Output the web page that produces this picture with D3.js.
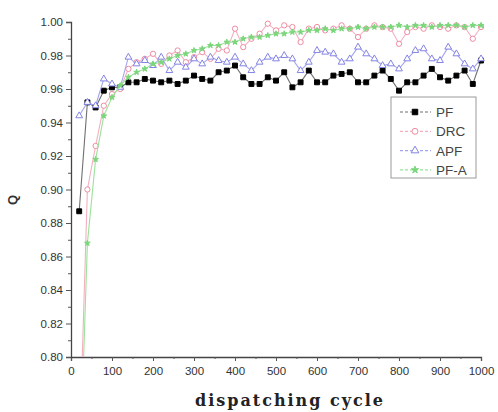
<!DOCTYPE html>
<html>
<head>
<meta charset="utf-8">
<script src="https://cdn.jsdelivr.net/npm/d3@7"></script>
<style>
  body { margin: 0; background: #fff; }
  svg { display: block; }
</style>
</head>
<body>
<svg id="chart" width="498" height="412"></svg>
<script>
// dispatching cycles, one point every 20
var cycles = [20,40,60,80,100,120,140,160,180,200,220,240,260,280,300,320,340,360,380,400,
  420,440,460,480,500,520,540,560,580,600,620,640,660,680,700,720,740,760,780,800,
  820,840,860,880,900,920,940,960,980,1000];

var pf = [0.887,0.952,0.949,0.959,0.961,0.961,0.964,0.964,0.966,0.965,0.964,0.965,0.963,0.965,0.968,0.966,0.965,0.970,0.971,0.974,
  0.967,0.963,0.963,0.967,0.965,0.970,0.961,0.964,0.971,0.964,0.964,0.968,0.969,0.970,0.964,0.964,0.968,0.971,0.966,0.959,
  0.964,0.964,0.968,0.972,0.967,0.965,0.968,0.971,0.963,0.977];

var drc = [0.740,0.900,0.926,0.950,0.957,0.960,0.972,0.976,0.978,0.981,0.975,0.980,0.983,0.976,0.979,0.982,0.978,0.984,0.983,0.996,
  0.985,0.990,0.993,0.999,0.995,0.998,0.997,0.988,0.996,0.997,0.995,0.996,0.998,0.996,0.991,0.996,0.998,0.997,0.996,0.987,
  0.994,0.997,0.996,0.998,0.997,0.996,0.998,0.997,0.990,0.997];

var apf = [0.944,0.952,0.950,0.966,0.963,0.961,0.979,0.975,0.977,0.974,0.979,0.971,0.976,0.973,0.978,0.975,0.979,0.977,0.976,0.979,
  0.975,0.971,0.976,0.979,0.978,0.980,0.978,0.971,0.976,0.983,0.982,0.981,0.976,0.978,0.985,0.981,0.978,0.974,0.975,0.972,
  0.978,0.983,0.984,0.978,0.977,0.985,0.981,0.975,0.972,0.978];

var pfa = [0.720,0.868,0.918,0.944,0.955,0.962,0.967,0.970,0.972,0.975,0.976,0.978,0.980,0.981,0.983,0.984,0.986,0.986,0.988,0.988,
  0.990,0.991,0.991,0.992,0.993,0.993,0.994,0.994,0.995,0.995,0.996,0.995,0.996,0.996,0.997,0.996,0.997,0.997,0.997,0.998,
  0.997,0.998,0.998,0.997,0.998,0.998,0.998,0.997,0.998,0.998];

var seriesNames = ["PF", "DRC", "APF", "PF-A"];
var xTicks = [0,100,200,300,400,500,600,700,800,900,1000];
var yTicks = [0.80,0.82,0.84,0.86,0.88,0.90,0.92,0.94,0.96,0.98,1.00];

var series = [
  {name: seriesNames[0], values: pf,  line: "#707070", mark: "#000", fill: "#000", symbol: d3.symbolSquare, size: 24},
  {name: seriesNames[1], values: drc, line: "#f4b0c0", mark: "#ef8ca2", fill: "#fff", symbol: d3.symbolCircle, size: 22},
  {name: seriesNames[2], values: apf, line: "#a4a4ef", mark: "#8484e4", fill: "#fff", symbol: d3.symbolTriangle, size: 20},
  {name: seriesNames[3], values: pfa, line: "#9be29b", mark: "#7ad67a", fill: "#7ad67a", symbol: d3.symbolStar, size: 10}
];

var svg = d3.select("#chart");
var plotL = 71, plotR = 481, plotT = 22, plotB = 357;

var x = d3.scaleLinear().domain([0, 1000]).range([plotL, plotR]);
var y = d3.scaleLinear().domain([0.80, 1.00]).range([plotB, plotT]);

svg.append("defs").append("clipPath").attr("id", "plot")
  .append("rect")
  .attr("x", plotL).attr("y", plotT - 6)
  .attr("width", plotR - plotL + 6).attr("height", plotB - plotT + 6);

// axes
svg.append("g")
  .attr("transform", "translate(0," + plotB + ")")
  .call(d3.axisBottom(x).tickValues(xTicks).tickSize(4).tickPadding(6).tickFormat(d3.format("d")));
svg.append("g")
  .attr("transform", "translate(0," + plotB + ")")
  .call(d3.axisBottom(x).tickValues(d3.range(50, 1000, 100)).tickSize(2).tickFormat(""))
  .select(".domain").remove();

svg.append("g")
  .attr("transform", "translate(" + plotL + ",0)")
  .call(d3.axisLeft(y).tickValues(yTicks).tickSize(5).tickPadding(3).tickFormat(d3.format(".2f")));
svg.append("g")
  .attr("transform", "translate(" + plotL + ",0)")
  .call(d3.axisLeft(y).tickValues(d3.range(0.81, 1.0, 0.02)).tickSize(3).tickFormat(""))
  .select(".domain").remove();

svg.selectAll(".domain").attr("stroke", "#444").attr("stroke-width", 1.3);
svg.selectAll(".tick line").attr("stroke", "#555");
svg.selectAll(".tick text")
  .attr("font-family", "Liberation Sans, Arial, sans-serif")
  .attr("font-size", 11.5)
  .attr("fill", "#333");

// axis titles
svg.append("text")
  .attr("transform", "translate(17,200) rotate(-90)")
  .attr("text-anchor", "middle")
  .attr("font-family", "Liberation Sans, Arial, sans-serif")
  .attr("font-size", 13)
  .attr("font-weight", "bold")
  .attr("fill", "#333")
  .text("Q");

svg.append("text")
  .attr("x", 195).attr("y", 406)
  .attr("textLength", 188)
  .attr("lengthAdjust", "spacing")
  .attr("font-family", "DejaVu Serif, serif")
  .attr("font-size", 16)
  .attr("font-weight", "bold")
  .attr("fill", "#222")
  .text("dispatching cycle");

// lines + markers
var plot = svg.append("g").attr("clip-path", "url(#plot)");

series.forEach(function(s, k) {
  var pts = cycles.map(function(c, i) { return {c: c, v: s.values[i]}; });
  var line = d3.line()
    .x(function(d) { return x(d.c); })
    .y(function(d) { return y(d.v); });

  plot.append("path")
    .datum(pts)
    .attr("fill", "none")
    .attr("stroke", s.line)
    .attr("stroke-width", 1.1)
    .attr("d", line);

  plot.selectAll(".m" + k)
    .data(pts)
    .enter()
    .append("path")
    .attr("class", "m" + k)
    .attr("transform", function(d) { return "translate(" + x(d.c) + "," + y(d.v) + ")"; })
    .attr("d", d3.symbol().type(s.symbol).size(s.size))
    .attr("fill", s.fill)
    .attr("stroke", s.mark)
    .attr("stroke-width", 1);
});

// legend
var legend = svg.append("g").attr("transform", "translate(391,97)");
legend.append("rect")
  .attr("width", 85).attr("height", 81)
  .attr("fill", "#fff")
  .attr("stroke", "#9a9a9a");

var rows = legend.selectAll(".row")
  .data(series)
  .enter()
  .append("g")
  .attr("class", "row")
  .attr("transform", function(d, i) { return "translate(0," + (15 + i * 19.3) + ")"; });

rows.append("line")
  .attr("x1", 9).attr("x2", 40)
  .attr("stroke", function(d) { return d.line; })
  .attr("stroke-width", 1.2)
  .attr("stroke-dasharray", "3,2");
rows.append("path")
  .attr("transform", "translate(24,0)")
  .attr("d", function(d) { return d3.symbol().type(d.symbol).size(d.size + 6)(); })
  .attr("fill", function(d) { return d.fill; })
  .attr("stroke", function(d) { return d.mark; });
rows.append("text")
  .attr("x", 45).attr("y", 5)
  .attr("font-family", "Liberation Sans, Arial, sans-serif")
  .attr("font-size", 13.5)
  .attr("fill", "#444")
  .text(function(d) { return d.name; });
</script>
</body>
</html>
